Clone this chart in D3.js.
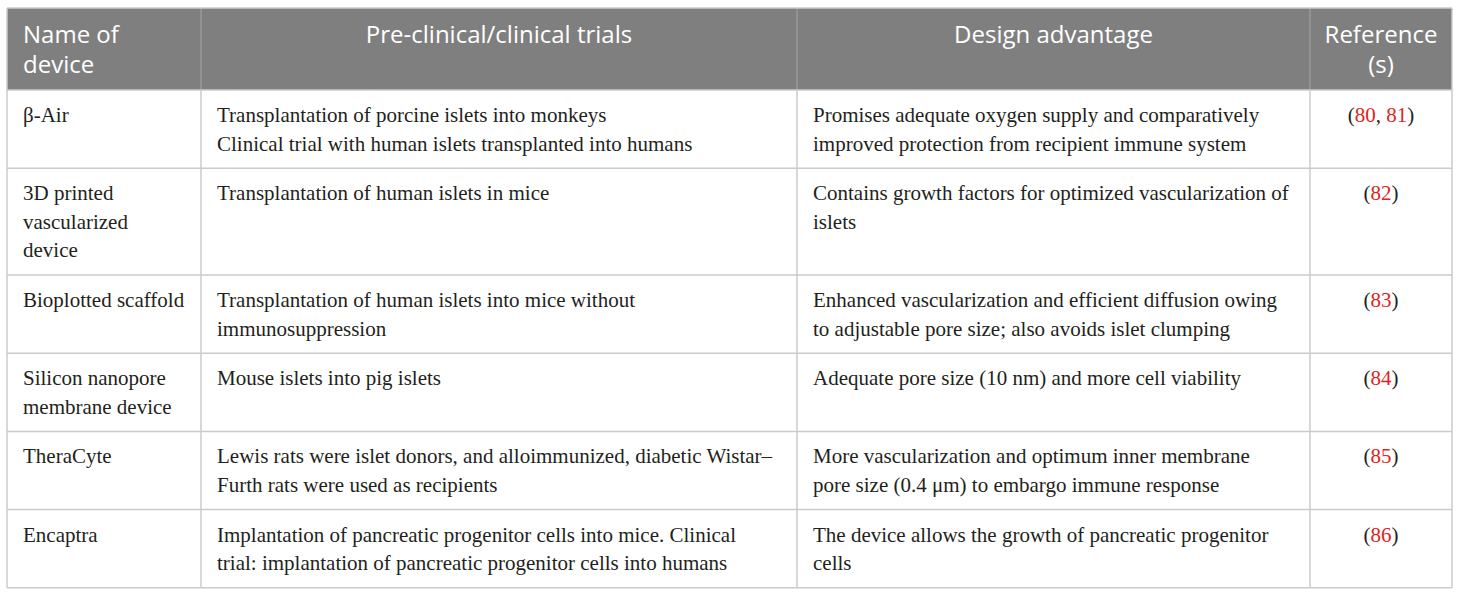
<!DOCTYPE html>
<html>
<head>
<meta charset="utf-8">
<script src="https://cdn.jsdelivr.net/npm/d3@7"></script>
<style>
  body { margin: 0; background: #fff; }
</style>
</head>
<body>
<svg></svg>
<script>
// table content, pre-wrapped as in the picture
const headers = ['Name of|device', 'Pre-clinical/clinical trials', 'Design advantage', 'Reference|(s)'];
const devices = [
    ['β-Air'],
    ['3D printed', 'vascularized', 'device'],
    ['Bioplotted scaffold'],
    ['Silicon nanopore', 'membrane device'],
    ['TheraCyte'],
    ['Encaptra']
];
const trials = [
    ['Transplantation of porcine islets into monkeys', 'Clinical trial with human islets transplanted into humans'],
    ['Transplantation of human islets in mice'],
    ['Transplantation of human islets into mice without', 'immunosuppression'],
    ['Mouse islets into pig islets'],
    ['Lewis rats were islet donors, and alloimmunized, diabetic Wistar–', 'Furth rats were used as recipients'],
    ['Implantation of pancreatic progenitor cells into mice. Clinical', 'trial: implantation of pancreatic progenitor cells into humans']
];
const advantages = [
    ['Promises adequate oxygen supply and comparatively', 'improved protection from recipient immune system'],
    ['Contains growth factors for optimized vascularization of', 'islets'],
    ['Enhanced vascularization and efficient diffusion owing', 'to adjustable pore size; also avoids islet clumping'],
    ['Adequate pore size (10 nm) and more cell viability'],
    ['More vascularization and optimum inner membrane', 'pore size (0.4 μm) to embargo immune response'],
    ['The device allows the growth of pancreatic progenitor', 'cells']
];
const refs = [[80, 81], [82], [83], [84], [85], [86]];

const size = {w: 1460, h: 596};
const table = {x: 7, y: 8, headH: 82};
const colEdges = [7, 201, 797, 1310, 1452];
const lineH = 28.6, padV = 21, padL = 16;
const gridColor = '#cbcbcb';

const svg = d3.select('svg')
    .attr('width', size.w)
    .attr('height', size.h);

// row heights from the number of wrapped lines
const rows = devices.map((d, i) => ({
    device: d, trial: trials[i], adv: advantages[i], ref: refs[i],
    lines: Math.max(d.length, trials[i].length, advantages[i].length)
}));
let yPos = table.y + table.headH;
rows.forEach(r => { r.y = yPos; r.h = padV + r.lines * lineH; yPos += r.h; });
const bottom = yPos;

const x = d3.scaleOrdinal().domain(d3.range(5)).range(colEdges);

// header
svg.append('rect')
    .attr('x', table.x).attr('y', table.y)
    .attr('width', colEdges[4] - colEdges[0]).attr('height', table.headH)
    .attr('fill', '#7f7f7f');

const head = svg.append('g').classed('head', true);
headers.forEach((h, i) => {
    let parts = h.split('|');
    let left = i === 0;
    let tx = left ? x(i) + padL : (x(i) + x(i + 1)) / 2;
    let t = head.append('text')
        .attr('x', tx)
        .attr('y', table.y + 35)
        .attr('text-anchor', left ? 'start' : 'middle')
        .attr('fill', '#fff')
        .style('font-family', '"Open Sans", sans-serif')
        .style('font-size', '24px');
    parts.forEach((p, k) => {
        t.append('tspan').attr('x', tx).attr('dy', k === 0 ? 0 : 30).text(p);
    });
});

// body rows
const body = svg.append('g').classed('body', true)
    .style('font-family', '"Liberation Serif", serif')
    .style('font-size', '21px')
    .attr('fill', '#231f20');

function cellText (lines, col, y) {
    let t = body.append('text').attr('x', x(col) + padL).attr('y', y + 32);
    lines.forEach((l, k) => {
        t.append('tspan').attr('x', x(col) + padL).attr('dy', k === 0 ? 0 : lineH).text(l);
    });
}

rows.forEach(r => {
    cellText(r.device, 0, r.y);
    cellText(r.trial, 1, r.y);
    cellText(r.adv, 2, r.y);
    let t = body.append('text')
        .attr('x', (x(3) + x(4)) / 2)
        .attr('y', r.y + 32)
        .attr('text-anchor', 'middle');
    t.append('tspan').text('(');
    r.ref.forEach((n, k) => {
        if (k > 0) t.append('tspan').text(', ');
        t.append('tspan').attr('fill', '#e2231a').text(n);
    });
    t.append('tspan').text(')');
});

// grid lines
const grid = svg.append('g').classed('grid', true)
    .attr('stroke', gridColor).attr('stroke-width', 1.5).attr('fill', 'none');

grid.selectAll('line.h')
    .data(rows.map(r => r.y).concat([bottom]))
    .enter().append('line')
    .attr('x1', colEdges[0]).attr('x2', colEdges[4])
    .attr('y1', d => d).attr('y2', d => d);

grid.selectAll('line.v')
    .data(colEdges)
    .enter().append('line')
    .attr('x1', d => d).attr('x2', d => d)
    .attr('y1', (d, i) => (i === 0 || i === 4) ? table.y : table.y + table.headH)
    .attr('y2', bottom);

grid.append('line')
    .attr('x1', colEdges[0]).attr('x2', colEdges[4])
    .attr('y1', table.y).attr('y2', table.y);

// header column separators (lighter on grey)
head.selectAll('line')
    .data(colEdges.slice(1, 4))
    .enter().append('line')
    .attr('x1', d => d).attr('x2', d => d)
    .attr('y1', table.y).attr('y2', table.y + table.headH)
    .attr('stroke', '#999').attr('stroke-width', 1.5);
</script>
</body>
</html>
